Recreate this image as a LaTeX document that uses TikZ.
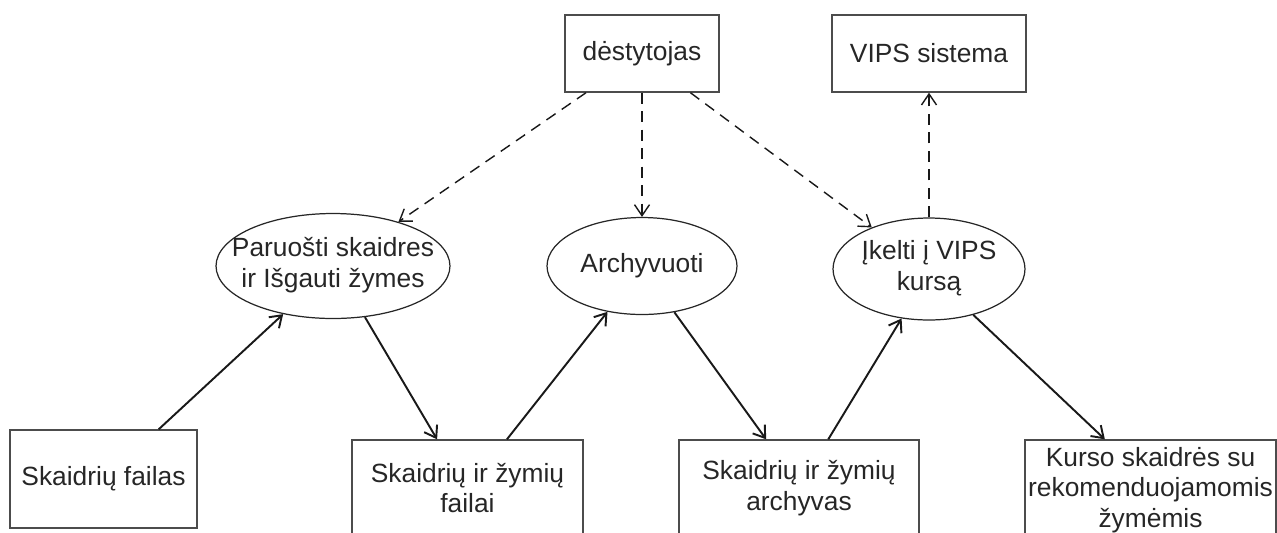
\documentclass[tikz,border=0pt]{standalone}
\usepackage{fontspec}
\setmainfont{Liberation Sans}
\usetikzlibrary{shapes.geometric,arrows.meta}

% text of an ellipse, kept from widening the shape
\newcommand{\ucasetext}[1]{\makebox[0pt]{\begin{tabular}{@{}c@{}}#1\end{tabular}}}

\tikzset{
  box/.style={draw=black!70, line width=0.8pt, rectangle, align=center, inner sep=0pt},
  usecase/.style={draw=black!85, line width=0.7pt, ellipse, inner sep=0pt},
  flow/.style={-{Straight Barb[length=0.22cm,width=0.3cm]}, line width=1.1pt, black!90},
  ctrl/.style={flow, dash pattern=on 0.22cm off 0.15cm, line width=0.8pt},
}

\begin{document}
\begin{tikzpicture}[x=0.02cm, y=-0.02cm, font=\fontsize{15}{17.3}\selectfont, text=black!85]
    \useasboundingbox (0,0) rectangle (1277,532);
    \clip (0,0) rectangle (1277,532);
    % actors
    \node[box, minimum width=3.08cm, minimum height=1.54cm] (dest) at (642,53.5) {dėstytojas};
    \node[box, minimum width=3.88cm, minimum height=1.54cm] (vips) at (929,53.5) {VIPS sistema};
    % activities
    \node[usecase, minimum width=4.68cm, minimum height=2.1cm] (pas) at (333,266) {\ucasetext{Paruošti skaidres\\ir Išgauti žymes}};
    \node[usecase, minimum width=3.8cm, minimum height=1.94cm] (arch) at (642,266) {\ucasetext{Archyvuoti}};
    \node[usecase, minimum width=3.84cm, minimum height=2.04cm] (ikel) at (929,269) {\ucasetext{Įkelti į VIPS\\kursą}};
    % files (the lower ones run past the bottom edge)
    \node[box, minimum width=3.74cm, minimum height=1.96cm] (fail) at (103.5,479) {Skaidrių failas};
    \node[box, minimum width=4.62cm, minimum height=1.92cm] (fz) at (467.5,488) {Skaidrių ir žymių\\failai};
    \node[box, minimum width=4.8cm, minimum height=1.92cm] (arc) at (799,488) {Skaidrių ir žymių\\archyvas};
    \node[box, minimum width=5.02cm, minimum height=2.0cm] (kur) at (1150.5,490) {Kurso skaidrės su\\rekomenduojamomis\\žymėmis};
    % data flow
    \draw[flow] (fail.42) -- (pas.224);
    \draw[flow] (pas.302) -- (fz.122);
    \draw[flow] (fz.51) -- (arch.233);
    \draw[flow] (arch.305) -- (arc.124);
    \draw[flow] (arc.59) -- (ikel.241);
    \draw[flow] (ikel.314) -- (kur.132);
    % control
    \draw[ctrl] (dest.215) -- (pas.34);
    \draw[ctrl] (dest.south) -- (arch.north);
    \draw[ctrl] (dest.321) -- (ikel.144);
    \draw[ctrl] (ikel.north) -- (vips.south);
\end{tikzpicture}
\end{document}
